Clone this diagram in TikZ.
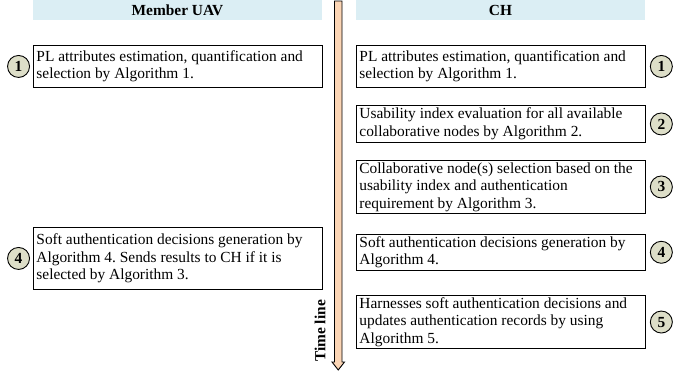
\documentclass[tikz,border=0pt]{standalone}
\usepackage{fontspec}
\setmainfont{Liberation Serif}
\usetikzlibrary{positioning}
\hyphenpenalty=10000
\exhyphenpenalty=10000
\frenchspacing
\definecolor{HeadBlue}{RGB}{219,238,244}
\definecolor{TimePeach}{RGB}{251,213,181}
\definecolor{StepOlive}{RGB}{221,222,200}
\tikzset{
  stepbox/.style={draw,line width=0.9pt,anchor=north west,text width=283pt,align=flush left,inner xsep=2pt,inner ysep=2pt},
  stepno/.style={circle,draw,line width=0.9pt,fill=StepOlive,minimum size=22pt,inner sep=0pt,font=\fontsize{15.4}{17.5}\selectfont\bfseries},
  colhead/.style={fill=HeadBlue,minimum width=289pt,minimum height=20pt,inner sep=0pt,font=\fontsize{15.4}{17.5}\selectfont\bfseries}
}

\begin{document}
\begin{tikzpicture}[x=1pt,y=-1pt,font=\fontsize{15.4}{17.5}\selectfont]
\useasboundingbox (0,0) rectangle (673,372);
\node[colhead] (hUAV) at (177.5,10) {Member UAV};
\node[colhead] (hCH) at (500.5,10) {CH};
% time line arrow
\draw[line width=0.9pt,fill=TimePeach] (334.5,1) -- (342,1) -- (342,362) -- (344.5,362) -- (338.25,370) -- (332,362) -- (334.5,362) -- cycle;
\node[rotate=90,font=\fontsize{15.4}{17.5}\selectfont\bfseries] (tline) at (320,331) {Time line};
% member UAV side
\foreach \k/\y/\h/\txt in {1/45/42/{PL attributes estimation, quantification and selection by Algorithm 1.},
  4/227/62/{Soft authentication decisions generation by Algorithm 4. Sends results to CH if it is selected by Algorithm 3.}}{
  \node[stepbox,minimum height=\h pt,minimum width=289pt] (L\k) at (33,\y) {\txt};
  \node[stepno,left=3pt of L\k] (nL\k) {\k};}
% CH side
\foreach \k/\y/\h/\txt in {1/45/42/{PL attributes estimation, quantification and selection by Algorithm 1.},
  2/105/37/{Usability index evaluation for all available collaborative nodes by Algorithm 2.},
  3/160/52/{Collaborative node(s) selection based on the usability index and authentication requirement by Algorithm 3.},
  4/234/34/{Soft authentication decisions generation by Algorithm 4.},
  5/295/53/{Harnesses soft authentication decisions and updates authentication records by using Algorithm 5.}}{
  \node[stepbox,minimum height=\h pt,minimum width=289pt] (R\k) at (356,\y) {\txt};
  \node[stepno,right=4pt of R\k] (nR\k) {\k};}
\end{tikzpicture}
\end{document}
